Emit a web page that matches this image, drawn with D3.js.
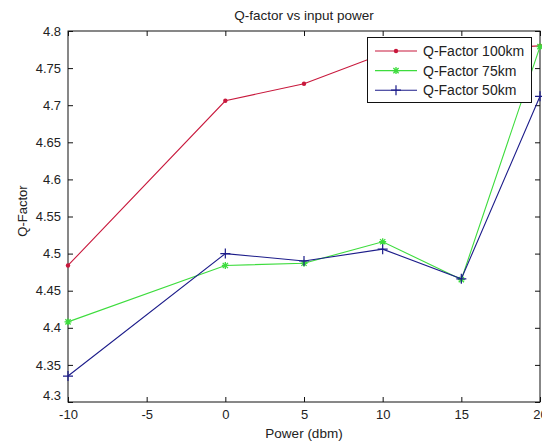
<!DOCTYPE html>
<html><head><meta charset="utf-8">
<script src="https://cdn.jsdelivr.net/npm/d3@7"></script>
<style>body{margin:0;background:#fff}svg{display:block}text{font-family:"Liberation Sans",Arial,sans-serif;fill:#222}</style>
</head><body>
<script>
const powers = [-10, 0, 5, 10, 15, 20];
const q100 = [4.484, 4.706, 4.729, 4.769, 4.775, 4.780];
const q75  = [4.408, 4.484, 4.487, 4.516, 4.465, 4.779];
const q50  = [4.335, 4.500, 4.490, 4.506, 4.466, 4.712];
const seriesNames = ["Q-Factor 100km", "Q-Factor 75km", "Q-Factor 50km"];
const xTicks = [-10, -5, 0, 5, 10, 15, 20];
const yTicks = [4.3, 4.35, 4.4, 4.45, 4.5, 4.55, 4.6, 4.65, 4.7, 4.75, 4.8];

const W = 542, H = 443;
const svg = d3.select("body").append("svg").attr("width", W).attr("height", H);
const x = d3.scaleLinear().domain([-10, 20]).range([68, 540]);
const y = d3.scaleLinear().domain([4.3, 4.8]).range([402, 31]);

const series = [
  {name: seriesNames[0], vals: q100, color: "#c8183c", marker: "dot"},
  {name: seriesNames[1], vals: q75, color: "#3ddc3d", marker: "star"},
  {name: seriesNames[2], vals: q50, color: "#1c1c8a", marker: "plus"}
];

// axes box
svg.append("rect").attr("x", x(-10)).attr("y", y(4.8)).attr("width", x(20) - x(-10)).attr("height", y(4.3) - y(4.8))
  .attr("fill", "#fff").attr("stroke", "#111").attr("stroke-width", 1);

const fmt = d => String(+d.toFixed(2));
// x axis bottom
const gx = svg.append("g").attr("transform", `translate(0,${y(4.3)})`)
  .call(d3.axisBottom(x).tickValues(xTicks).tickSize(-5).tickPadding(9).tickFormat(d => d));
const gxt = svg.append("g").attr("transform", `translate(0,${y(4.8)})`)
  .call(d3.axisTop(x).tickValues(xTicks).tickSize(-5).tickFormat(""));
const gy = svg.append("g").attr("transform", `translate(${x(-10)},0)`)
  .call(d3.axisLeft(y).tickValues(yTicks).tickSize(-5).tickPadding(7).tickFormat(fmt));
const gyr = svg.append("g").attr("transform", `translate(${x(20)},0)`)
  .call(d3.axisRight(y).tickValues(yTicks).tickSize(-5).tickFormat(""));
[gx, gxt, gy, gyr].forEach(g => {
  g.select(".domain").remove();
  g.selectAll(".tick line").attr("stroke", "#111");
  g.selectAll("text").attr("font-size", "13px").attr("fill", "#222").attr("font-family", '"Liberation Sans",Arial,sans-serif');
});
gy.selectAll(".tick").filter(d => d === 4.3).select("text").attr("dy", "-0.2em");
gx.selectAll(".tick text").attr("dy", "0.6em");

// lines
const line = d3.line().x((d, i) => x(powers[i])).y(d => y(d));
function drawMarker(g, type, cx, cy, color) {
  if (type === "dot") {
    g.append("circle").attr("cx", cx).attr("cy", cy).attr("r", 2.2).attr("fill", color);
  } else if (type === "plus") {
    const s = 5;
    g.append("path").attr("d", `M${cx - s},${cy}H${cx + s}M${cx},${cy - s}V${cy + s}`).attr("stroke", color).attr("stroke-width", 1.2);
  } else {
    const s = 3.5;
    g.append("path").attr("d", `M${cx - s},${cy}H${cx + s}M${cx},${cy - s}V${cy + s}M${cx - s*0.75},${cy - s*0.75}L${cx + s*0.75},${cy + s*0.75}M${cx - s*0.75},${cy + s*0.75}L${cx + s*0.75},${cy - s*0.75}`)
      .attr("stroke", color).attr("stroke-width", 1.3);
  }
}
const plot = svg.append("g");
series.forEach(s => {
  plot.append("path").datum(s.vals).attr("d", line).attr("fill", "none").attr("stroke", s.color).attr("stroke-width", 1.1);
  s.vals.forEach((v, i) => drawMarker(plot, s.marker, x(powers[i]), y(v), s.color));
});

// title & labels
svg.append("text").attr("x", (x(-10) + x(20)) / 2).attr("y", 20).attr("text-anchor", "middle").attr("font-size", "13.5px").text("Q-factor vs input power");
svg.append("text").attr("x", (x(-10) + x(20)) / 2).attr("y", 438).attr("text-anchor", "middle").attr("font-size", "13.5px").text("Power (dbm)");
svg.append("text").attr("transform", `translate(27,${211}) rotate(-90)`).attr("text-anchor", "middle").attr("font-size", "13px").text("Q-Factor");

// legend
const lg = svg.append("g");
lg.append("rect").attr("x", 367.5).attr("y", 37.5).attr("width", 164).attr("height", 65).attr("fill", "#fff").attr("stroke", "#111");
series.forEach((s, i) => {
  const ly = 51 + i * 19.6;
  lg.append("line").attr("x1", 375).attr("x2", 417).attr("y1", ly).attr("y2", ly).attr("stroke", s.color).attr("stroke-width", 1.1);
  drawMarker(lg, s.marker, 396, ly, s.color);
  lg.append("text").attr("x", 423).attr("y", ly + 5).attr("font-size", "14px").text(s.name);
});
</script>
</body></html>
